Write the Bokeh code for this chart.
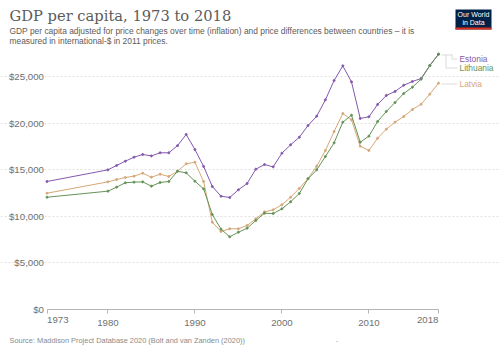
from bokeh.plotting import figure
from bokeh.models import Label, Range1d, FixedTicker, BoxAnnotation, NumeralTickFormatter
from bokeh.embed import file_html
from bokeh.resources import INLINE

years = [1973, 1980, 1981, 1982, 1983, 1984, 1985, 1986, 1987, 1988, 1989, 1990, 1991, 1992, 1993, 1994,
         1995, 1996, 1997, 1998, 1999, 2000, 2001, 2002, 2003, 2004, 2005, 2006, 2007, 2008, 2009, 2010,
         2011, 2012, 2013, 2014, 2015, 2016, 2017, 2018]
estonia = [13750, 15000, 15470, 15930, 16360, 16650, 16500, 16830, 16830, 17600, 18800, 17190, 15370, 13210, 12170, 12030,
           12860, 13530, 15070, 15570, 15320, 16790, 17690, 18500, 19760, 20760, 22520, 24600, 26170, 24450, 20520, 20700,
           22020, 22990, 23420, 24090, 24490, 24810, 26210, 27420]
latvia = [12490, 13710, 13960, 14180, 14320, 14640, 14210, 14530, 14290, 14850, 15650, 15820, 13750, 9380, 8380, 8670,
          8670, 9020, 9740, 10490, 10710, 11250, 12060, 13000, 14070, 15390, 17080, 19120, 21050, 20370, 17540, 17080,
          18400, 19370, 20120, 20730, 21480, 22050, 23130, 24310]
lithuania = [12060, 12710, 13140, 13610, 13680, 13710, 13250, 13640, 13750, 14850, 14680, 13780, 12960, 10200, 8630, 7810,
             8300, 8730, 9560, 10340, 10310, 10810, 11570, 12460, 14040, 15000, 16430, 17900, 20120, 20870, 17970, 18620,
             20190, 21270, 22230, 23200, 23880, 24740, 26200, 27420]
y_ticks = [0, 5000, 10000, 15000, 20000, 25000]
x_ticks = [1973, 1980, 1990, 2000, 2010, 2018]

PURPLE, TAN, GREEN = "#8459ae", "#d6a877", "#669458"
GREY = "#707070"
SANS = "Liberation Sans"

p = figure(width=500, height=353, output_backend="svg", toolbar_location=None,
           x_range=Range1d(1967.655, 2025.126), y_range=Range1d(-4726, 33190),
           min_border=0, min_border_left=0, min_border_right=0, min_border_top=0, min_border_bottom=0,
           outline_line_color=None, background_fill_color="white", border_fill_color="white")

p.xgrid.visible = False
p.ygrid.ticker = FixedTicker(ticks=y_ticks[1:])
p.ygrid.bounds = (1973, 2018)
p.ygrid.grid_line_color = "#e0e0e0"
p.ygrid.grid_line_dash = "2 2"
p.ygrid.grid_line_width = 1

p.yaxis.fixed_location = 1973
p.yaxis.ticker = FixedTicker(ticks=y_ticks)
p.yaxis.formatter = NumeralTickFormatter(format="$0,0")
p.yaxis.axis_line_color = None
p.yaxis.major_tick_line_color = None
p.yaxis.minor_tick_line_color = None
p.yaxis.major_tick_in = 0
p.yaxis.major_tick_out = 0
p.yaxis.major_label_text_font = SANS
p.yaxis.major_label_text_font_size = "9.7px"
p.yaxis.major_label_text_color = GREY
p.yaxis.major_label_standoff = 3

p.xaxis.fixed_location = 0
p.xaxis.bounds = (1973, 2018)
p.xaxis.ticker = FixedTicker(ticks=x_ticks)
p.xaxis.major_label_overrides = {1973: " ", 2018: " "}
p.xaxis.axis_line_color = "#b5b5b5"
p.xaxis.major_tick_line_color = "#b5b5b5"
p.xaxis.minor_tick_line_color = None
p.xaxis.major_tick_in = 0
p.xaxis.major_tick_out = 4
p.xaxis.major_label_text_font = SANS
p.xaxis.major_label_text_font_size = "9.7px"
p.xaxis.major_label_text_color = GREY
p.xaxis.major_label_standoff = 3


def canvas_label(x, y, text, size, color, font=SANS):
    p.add_layout(Label(x=x, y=y, x_units="canvas", y_units="canvas", text=text, text_font=font,
                       text_font_size=size, text_color=color, text_align="left", text_baseline="middle"))


def box(l, r, t, b, color):
    p.add_layout(BoxAnnotation(left=l, right=r, top=t, bottom=b, left_units="canvas", right_units="canvas",
                               top_units="canvas", bottom_units="canvas", fill_color=color, fill_alpha=1,
                               line_color=None))


p.line(years, latvia, line_color=TAN, line_width=1.0)
p.scatter(years, latvia, size=2.0, color=TAN)
p.line(years, estonia, line_color=PURPLE, line_width=1.0)
p.scatter(years, estonia, size=2.0, color=PURPLE)
p.line(years, lithuania, line_color=GREEN, line_width=1.0)
p.scatter(years, lithuania, size=2.0, color=GREEN)

# end tick labels, aligned inwards
p.add_layout(Label(x=1973, y=0, text="1973", text_font=SANS, text_font_size="9.7px", text_color=GREY,
                   text_align="left", text_baseline="top", y_offset=-7))
p.add_layout(Label(x=2018, y=0, text="2018", text_font=SANS, text_font_size="9.7px", text_color=GREY,
                   text_align="right", text_baseline="top", y_offset=-7))

# titles
canvas_label(9, 15, "GDP per capita, 1973 to 2018", "14.7px", "#5b5b5b", "DejaVu Serif")
canvas_label(9, 30, "GDP per capita adjusted for price changes over time (inflation) and price differences between countries – it is", "8.42px", "#5b5b5b")
canvas_label(9, 40, "measured in international-$ in 2011 prices.", "8.42px", "#5b5b5b")
canvas_label(9, 340, "Source: Maddison Project Database 2020 (Bolt and van Zanden (2020))", "7.4px", "#8a8a8a")
canvas_label(335.5, 339, ".", "7.4px", "#666666")

# logo
box(455, 491, 9, 29, "#002147")
box(455, 491, 27, 29, "#dc2e1c")
for y, t in [(14, "Our World"), (22, "in Data")]:
    p.add_layout(Label(x=473, y=y, x_units="canvas", y_units="canvas", text=t, text_font=SANS,
                       text_font_size="7px", text_color="white", text_align="center", text_baseline="middle"))

# end labels with connectors
canvas_label(459, 58, "Estonia", "8.4px", PURPLE)
canvas_label(459, 67, "Lithuania", "8.4px", GREEN)
canvas_label(459, 83, "Latvia", "8.4px", TAN)

CONN = "#dcdcdc"
box(441, 452, 54, 55, CONN)
box(451, 452, 54, 58, CONN)
box(451, 457, 58, 59, CONN)
box(445, 446, 54, 67, CONN)
box(445, 457, 67, 68, CONN)
box(441, 457, 83, 84, CONN)

open("out.html", "w").write(file_html(p, INLINE))
